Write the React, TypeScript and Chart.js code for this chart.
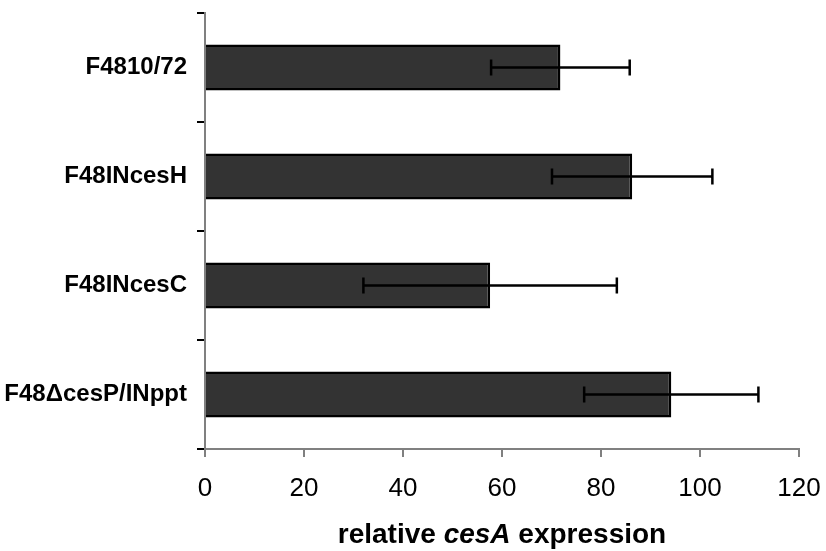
import React, { useEffect, useRef } from "react";
import { Chart, registerables } from "chart.js";

Chart.register(...registerables);

const categories = ["F4810/72", "F48INcesH", "F48INcesC", "F48\u0394cesP/INppt"];
const means = [71.8, 86.3, 57.6, 94.2];
const errors = [14.0, 16.2, 25.6, 17.6];
const xTicks = [0, 20, 40, 60, 80, 100, 120];
const titleParts = [
  { text: "relative ", italic: false },
  { text: "cesA", italic: true },
  { text: " expression", italic: false },
];

const FONT = "'Liberation Sans', Arial, sans-serif";

const errorBarPlugin = {
  id: "errorBars",
  afterDatasetsDraw(chart: any) {
    const ctx = chart.ctx;
    const meta = chart.getDatasetMeta(0);
    const xs = chart.scales.x;
    ctx.save();
    ctx.strokeStyle = "#000";
    ctx.lineWidth = 2.5;
    meta.data.forEach((el: any, i: number) => {
      const y = el.y;
      const lo = xs.getPixelForValue(means[i] - errors[i]);
      const hi = xs.getPixelForValue(means[i] + errors[i]);
      ctx.beginPath();
      ctx.moveTo(lo, y);
      ctx.lineTo(hi, y);
      ctx.moveTo(lo, y - 8);
      ctx.lineTo(lo, y + 8);
      ctx.moveTo(hi, y - 8);
      ctx.lineTo(hi, y + 8);
      ctx.stroke();
    });
    ctx.restore();
  },
};

const titlePlugin = {
  id: "mixedTitle",
  afterDraw(chart: any) {
    const ctx = chart.ctx;
    const area = chart.chartArea;
    ctx.save();
    ctx.fillStyle = "#000";
    ctx.textBaseline = "alphabetic";
    ctx.textAlign = "left";
    const fonts = titleParts.map((p) => `${p.italic ? "italic " : ""}bold 28px ${FONT}`);
    let total = 0;
    const widths = titleParts.map((p, i) => {
      ctx.font = fonts[i];
      const w = ctx.measureText(p.text).width;
      total += w;
      return w;
    });
    let x = (area.left + area.right) / 2 - total / 2;
    const y = 543;
    titleParts.forEach((p, i) => {
      ctx.font = fonts[i];
      ctx.fillText(p.text, x, y);
      x += widths[i];
    });
    ctx.restore();
  },
};

export default function App() {
  const ref = useRef<HTMLCanvasElement>(null);
  useEffect(() => {
    document.body.style.margin = "0";
    const chart = new Chart(ref.current!, {
      type: "bar",
      data: {
        labels: categories,
        datasets: [
          {
            data: means,
            backgroundColor: "#333333",
            borderColor: "#000000",
            borderWidth: 2.5,
            barPercentage: 0.42,
            categoryPercentage: 1,
          },
        ],
      },
      options: {
        indexAxis: "y",
        animation: false,
        responsive: false,
        maintainAspectRatio: false,
        layout: { padding: { top: 13, right: 27, left: 0, bottom: 0 } },
        plugins: { legend: { display: false }, tooltip: { enabled: false } },
        scales: {
          x: {
            min: 0,
            max: 120,
            afterBuildTicks: (s: any) => {
              s.ticks = xTicks.map((v) => ({ value: v }));
            },
            afterFit: (s: any) => {
              s.height = 102;
              s.paddingLeft = 0;
              s.paddingRight = 0;
            },
            grid: {
              drawOnChartArea: false,
              drawTicks: true,
              tickLength: 8,
              color: "#808080",
              lineWidth: 2,
            },
            border: { color: "#808080", width: 2 },
            ticks: {
              color: "#000",
              font: { family: FONT, size: 26 },
              padding: 16,
              maxRotation: 0,
            },
          },
          y: {
            offset: true,
            afterFit: (s: any) => {
              s.width = 205;
              s.paddingTop = 0;
              s.paddingBottom = 0;
            },
            grid: {
              offset: true,
              drawOnChartArea: false,
              drawTicks: true,
              tickLength: 8,
              color: "#000",
              lineWidth: 2,
            },
            border: { color: "#808080", width: 2 },
            ticks: {
              color: "#000",
              font: { family: FONT, size: 24, weight: "bold" },
              padding: 10,
            },
          },
        },
      },
      plugins: [errorBarPlugin, titlePlugin],
    } as any);
    return () => chart.destroy();
  }, []);
  return (
    <div style={{ position: "absolute", left: 0, top: 0, width: 826, height: 551, background: "#fff" }}>
      <canvas ref={ref} width={826} height={551} style={{ display: "block" }} />
    </div>
  );
}
